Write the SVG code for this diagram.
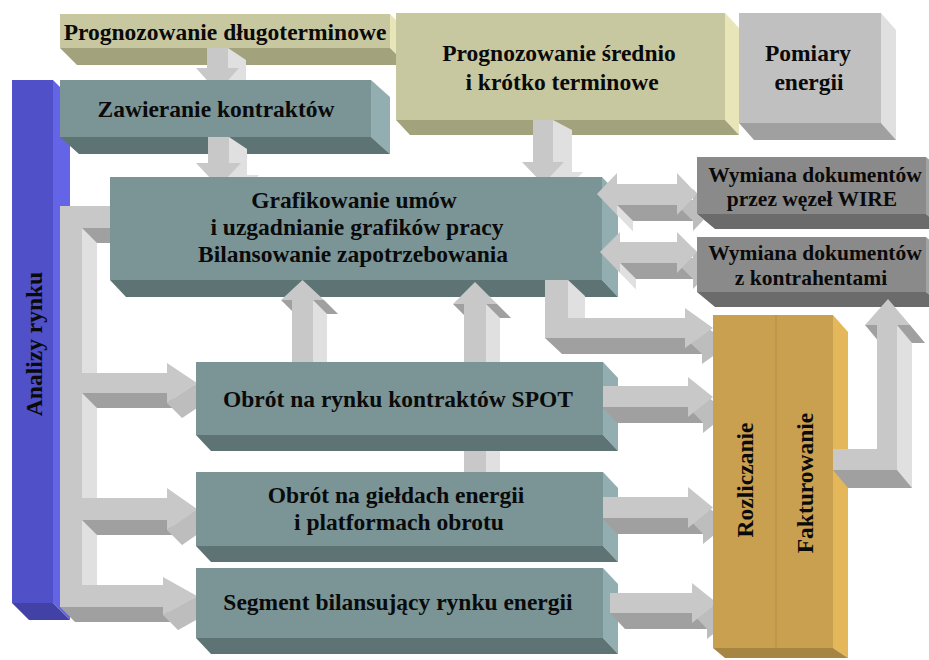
<svg xmlns="http://www.w3.org/2000/svg" width="929" height="660" viewBox="0 0 929 660">
<style>
.t{font-family:"Liberation Serif","Times New Roman",serif;font-weight:bold;font-size:23.5px;fill:#0a0a0a;text-anchor:middle}
.ts{font-size:21.5px}
.tf{fill:#7b9597}.tb{fill:#5e7374}.tr{fill:#93aeb1}
.of{fill:#c8c8a0}.ob{fill:#a2a27c}.or{fill:#e8e6b8}
.gf{fill:#c0c0c0}.gb{fill:#a0a0a0}.gr{fill:#e0e0e0}
.wf{fill:#8a8a8a}.wb{fill:#6b6b6b}.wr{fill:#a2a2a2}
.uf{fill:#c8a050}.ub{fill:#a68442}.ur{fill:#e4b85a}
.bf{fill:#5050c8}.bb{fill:#4242a6}.br{fill:#6464e6}
.af{fill:#c8c8c8}.al{fill:#e0e0e0}.ad{fill:#a0a0a0}.am{fill:#bdbdbd}
</style>
<defs>
<mask id="occl" maskUnits="userSpaceOnUse" x="0" y="0" width="929" height="660">
<rect x="0" y="0" width="929" height="660" fill="#fff"/>
<rect x="60" y="80" width="311" height="57" fill="#000"/>
<rect x="110" y="177" width="480" height="103" fill="#000"/>
<polygon points="196,362 603,362 603,435 618,451 211,451 196,435" fill="#000"/>
<rect x="196" y="472" width="407" height="74" fill="#000"/>
<rect x="196" y="568" width="407" height="70" fill="#000"/>
<rect x="713" y="315" width="120" height="333" fill="#000"/>
<polygon points="697,157 929,157 929,229 715,229 697,214" fill="#000"/>
<rect x="697" y="237" width="232" height="55" fill="#000"/>
</mask>
</defs>
<rect x="0" y="0" width="929" height="660" fill="#fff"/>

<g id="analizy-rynku">
<polygon class="br" points="53,80 70,97 70,620 53,603"/>
<polygon class="bb" points="12,603 53,603 70,620 29,620"/>
<rect class="bf" x="12" y="80" width="41" height="523"/>
<text class="t" x="42" y="344" transform="rotate(-90 42 344)">Analizy rynku</text>
</g>

<g id="prognozowanie-dlugoterminowe">
<polygon class="or" points="390,14 407,31 407,65 390,48"/>
<polygon class="ob" points="60,48 390,48 407,65 77,65"/>
<rect class="of" x="60" y="14" width="330" height="34"/>
<text class="t" x="225" y="40">Prognozowanie długoterminowe</text>
</g>

<g id="prognozowanie-srednio">
<polygon class="or" points="725,13 739,28 739,135 725,120"/>
<polygon class="ob" points="396,120 725,120 739,135 410,135"/>
<rect class="of" x="396" y="13" width="329" height="107"/>
<text class="t" x="559" y="61">Prognozowanie średnio</text>
<text class="t" x="562" y="90">i krótko terminowe</text>
</g>

<g id="pomiary-energii">
<polygon class="gr" points="881,13 896,30 896,140 881,123"/>
<polygon class="gb" points="739,123 881,123 896,140 754,140"/>
<rect class="gf" x="739" y="13" width="142" height="110"/>
<text class="t" x="808" y="61">Pomiary</text>
<text class="t" x="809" y="90">energii</text>
</g>

<g id="zawieranie-kontraktow">
<polygon class="tr" points="371,80 390,97 390,154 371,137"/>
<polygon class="tb" points="60,137 371,137 390,154 79,154"/>
<rect class="tf" x="60" y="80" width="311" height="57"/>
<text class="t" x="216" y="117">Zawieranie kontraktów</text>
</g>

<g id="grafikowanie">
<polygon class="tr" points="602,177 618,194 618,297 602,280"/>
<polygon class="tb" points="110,280 602,280 618,297 126,297"/>
<rect class="tf" x="110" y="177" width="492" height="103"/>
<text class="t" x="354" y="208">Grafikowanie umów</text>
<text class="t" x="357" y="235">i uzgadnianie grafików pracy</text>
<text class="t" x="353" y="262">Bilansowanie zapotrzebowania</text>
</g>

<g id="wymiana-wire">
<polygon class="wr" points="926,157 944,172 944,229 926,214"/>
<polygon class="wb" points="697,214 926,214 944,229 715,229"/>
<rect class="wf" x="697" y="157" width="229" height="57"/>
<text class="t ts" x="815" y="182">Wymiana dokumentów</text>
<text class="t ts" x="812" y="206">przez węzeł WIRE</text>
</g>

<g id="wymiana-kontrahenci">
<polygon class="wr" points="926,237 944,252 944,307 926,292"/>
<polygon class="wb" points="697,292 926,292 944,307 715,307"/>
<rect class="wf" x="697" y="237" width="229" height="55"/>
<text class="t ts" x="815" y="260">Wymiana dokumentów</text>
<text class="t ts" x="811" y="285">z kontrahentami</text>
</g>

<g id="obrot-spot">
<polygon class="tr" points="603,362 618,378 618,451 603,435"/>
<polygon class="tb" points="196,435 603,435 618,451 211,451"/>
<rect class="tf" x="196" y="362" width="407" height="73"/>
<text class="t" x="398" y="407">Obrót na rynku kontraktów SPOT</text>
</g>

<g id="obrot-gieldy">
<polygon class="tr" points="603,472 618,488 618,562 603,546"/>
<polygon class="tb" points="196,546 603,546 618,562 211,562"/>
<rect class="tf" x="196" y="472" width="407" height="74"/>
<text class="t" x="396" y="503">Obrót na giełdach energii</text>
<text class="t" x="399" y="530">i platformach obrotu</text>
</g>

<g id="segment-bilansujacy">
<polygon class="tr" points="603,568 618,584 618,654 603,638"/>
<polygon class="tb" points="196,638 603,638 618,654 211,654"/>
<rect class="tf" x="196" y="568" width="407" height="70"/>
<text class="t" x="398" y="610">Segment bilansujący rynku energii</text>
</g>

<g id="rozliczanie-fakturowanie">
<polygon class="ur" points="833,315 848,332 848,658 833,648"/>
<polygon class="ub" points="713,648 833,648 848,658 725,658"/>
<rect class="uf" x="713" y="315" width="120" height="333"/>
<line x1="776" y1="315" x2="776" y2="648" stroke="#b48c46" stroke-width="1"/>
<text class="t" x="753" y="480" transform="rotate(-90 753 480)">Rozliczanie</text>
<text class="t" x="813" y="483" transform="rotate(-90 813 483)">Fakturowanie</text>
</g>

<g id="connectors" mask="url(#occl)">
<g id="c-dlugo-zawieranie">
<polygon class="al" points="225,60 246,60 246,80 257,80 235.5,104 214,80 225,80"/>
<polygon class="al" points="228,48 246,60 246,80 228,68"/>
<polygon class="af" points="207,48 228,48 228,68 239,68 217.5,92 196,68 207,68"/>
</g>
<g id="c-zawieranie-grafikowanie">
<polygon class="al" points="226,149 247,149 247,175 259,175 236.5,199 214,175 226,175"/>
<polygon class="al" points="229,137 247,149 247,175 229,163"/>
<polygon class="af" points="208,137 229,137 229,163 241,163 218.5,187 196,163 208,163"/>
</g>
<g id="c-srednio-grafikowanie">
<polygon class="al" points="552,130 572,130 572,172 583,172 562,194 541,172 552,172"/>
<polygon class="al" points="553,120 572,130 572,172 553,162"/>
<polygon class="af" points="533,120 553,120 553,162 564,162 543,184 522,162 533,162"/>
</g>
<g id="c-grafikowanie-wire">
<polygon class="am" points="613,210 633,189 633,200 693,200 693,189 713,210 693,231 693,221 633,221 633,231"/>
<polygon class="ad" points="617,205 677,205 693,221 633,221"/>
<polygon class="al" points="617,205 617,215 633,231 633,221"/>
<polygon class="af" points="597,194 617,173 617,184 677,184 677,173 697,194 677,215 677,205 617,205 617,215"/>
</g>
<g id="c-grafikowanie-kontrahenci">
<polygon class="am" points="616,268 636,248 636,258 693,258 693,248 713,268 693,289 693,279 636,279 636,289"/>
<polygon class="ad" points="620,263 677,263 693,279 636,279"/>
<polygon class="al" points="620,263 620,273 636,289 636,279"/>
<polygon class="af" points="600,252 620,232 620,242 677,242 677,232 697,252 677,273 677,263 620,263 620,273"/>
</g>
<g id="c-grafikowanie-rozliczanie">
<polygon class="am" points="562,296 585,296 585,334 702,334 702,324 730,344 702,364 702,354 562,354"/>
<polygon class="al" points="568,280 585,296 585,334 568,318"/>
<polygon class="ad" points="545,338 685,338 702,354 562,354"/>
<polygon class="af" points="545,280 568,280 568,318 685,318 685,308 713,328 685,348 685,338 545,338"/>
</g>
<g id="c-spot-grafikowanie">
<polygon class="al" points="306,376 327,376 327,314 338,314 316.5,294 295,314 306,314"/>
<polygon class="al" points="313,300 327,314 327,376 313,362"/>
<polygon class="ad" points="281,300 292,300 306,314 295,314"/>
<polygon class="ad" points="313,300 324,300 338,314 327,314"/>
<polygon class="af" points="292,362 313,362 313,300 324,300 302.5,280 281,300 292,300"/>
</g>
<g id="c-gieldy-grafikowanie">
<polygon class="al" points="478,486 500,486 500,318 511,318 489,296 467,318 478,318"/>
<polygon class="al" points="486,304 500,318 500,486 486,472"/>
<polygon class="ad" points="453,304 464,304 478,318 467,318"/>
<polygon class="ad" points="486,304 497,304 511,318 500,318"/>
<polygon class="af" points="464,472 486,472 486,304 497,304 475,282 453,304 464,304"/>
</g>
<g id="c-analizy-rynku">
<polygon class="al" points="75,221 125,221 125,243 97,243 97,388 182,388 182,378 212,398 182,418 182,408 97,408 97,513 182,513 182,503 212,524 182,545 182,535 97,535 97,600 178,600 178,592 212,611 178,630 178,622 75,622"/>
<polygon class="ad" points="82,228 110,228 125,243 97,243"/>
<polygon class="ad" points="82,393 167,393 182,408 97,408"/>
<polygon class="ad" points="82,520 167,520 182,535 97,535"/>
<polygon class="ad" points="60,607 163,607 178,622 75,622"/>
<polygon class="am" points="197,383 167,403 182,418 212,398"/>
<polygon class="am" points="197,509 167,530 182,545 212,524"/>
<polygon class="am" points="197,596 163,615 178,630 212,611"/>
<polygon class="af" points="60,206 110,206 110,228 82,228 82,373 167,373 167,363 197,383 167,403 167,393 82,393 82,498 167,498 167,488 197,509 167,530 167,520 82,520 82,585 163,585 163,577 197,596 163,615 163,607 60,607"/>
</g>
<g id="c-spot-rozliczanie">
<polygon class="am" points="617,402 703,402 703,393 728,413 703,433 703,423 617,423"/>
<polygon class="ad" points="602,407 688,407 703,423 617,423"/>
<polygon class="af" points="602,386 688,386 688,377 713,397 688,417 688,407 602,407"/>
</g>
<g id="c-gieldy-rozliczanie">
<polygon class="am" points="617,513 703,513 703,503 728,523.5 703,544 703,534 617,534"/>
<polygon class="ad" points="602,518 688,518 703,534 617,534"/>
<polygon class="af" points="602,497 688,497 688,487 713,507.5 688,528 688,518 602,518"/>
</g>
<g id="c-segment-rozliczanie">
<polygon class="am" points="625,609 707,609 707,599 732,619 707,639 707,629 625,629"/>
<polygon class="ad" points="610,613 692,613 707,629 625,629"/>
<polygon class="af" points="610,593 692,593 692,583 717,603 692,623 692,613 610,613"/>
</g>
<g id="c-fakturowanie-kontrahenci">
<polygon class="al" points="848,467 892,467 892,343 880,343 903,317 925,343 912,343 912,488 848,488"/>
<polygon class="al" points="897,325 912,343 912,488 897,470"/>
<polygon class="ad" points="833,470 897,470 912,488 848,488"/>
<polygon class="ad" points="897,325 910,325 925,343 912,343"/>
<polygon class="ad" points="865,325 877,325 892,343 880,343"/>
<polygon class="af" points="833,449 877,449 877,325 865,325 888,299 910,325 897,325 897,470 833,470"/>
</g>
</g>
</svg>
